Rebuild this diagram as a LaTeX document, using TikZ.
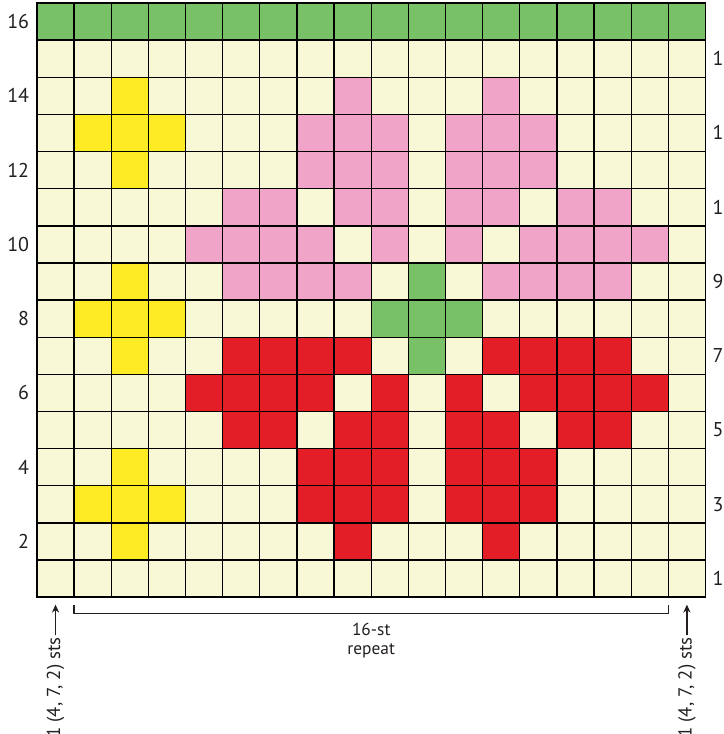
\documentclass[tikz,border=0pt]{standalone}
\usepackage{fontspec}
\setmainfont{PT Sans}
\usetikzlibrary{arrows.meta}

\definecolor{chartcream}{RGB}{248,247,214}
\definecolor{chartgreen}{RGB}{120,193,102}
\definecolor{chartyellow}{RGB}{255,235,35}
\definecolor{chartpink}{RGB}{240,164,199}
\definecolor{chartred}{RGB}{227,30,38}
\definecolor{chartink}{RGB}{35,31,32}

\tikzset{
  rowlabel/.style={inner sep=0pt,text=chartink,font=\fontsize{10}{12}\selectfont},
  stsnote/.style={rotate=90,anchor=east,inner sep=1pt,text=chartink,font=\fontsize{9.4}{11}\selectfont},
  stitch/.style={line width=0.7pt,draw=black}
}

\begin{document}
\begin{tikzpicture}[x=18.6pt,y=18.6pt,>={Stealth[length=4pt,width=3.6pt]}]
  \useasboundingbox (-0.995,-3.683) rectangle (18.495,16.08);
  % ground and top row
  \fill[chartcream] (0,0) rectangle (18,16);
  \fill[chartgreen] (0,15) rectangle (18,16);
  % small yellow crosses
  \foreach \r in {3,8,13} {
    \fill[chartyellow] (2,\r-2) rectangle ++(1,3);
    \fill[chartyellow] (1,\r-1) rectangle ++(3,1);
  }
  % pink flower above, red flower mirrored below
  \foreach \c/\k in {6/0,7/0,8/0,9/0,13/0,14/0,15/0,16/0,
                     5/1,6/1,7/1,8/1,10/1,12/1,14/1,15/1,16/1,17/1,
                     6/2,7/2,9/2,10/2,12/2,13/2,15/2,16/2,
                     8/3,9/3,10/3,12/3,13/3,14/3,
                     8/4,9/4,10/4,12/4,13/4,14/4,
                     9/5,13/5} {
    \fill[chartpink] (\c-1,8+\k) rectangle ++(1,1);
    \fill[chartred] (\c-1,6-\k) rectangle ++(1,1);
  }
  % stem
  \fill[chartgreen] (10,8) rectangle ++(1,1);
  \fill[chartgreen] (9,7) rectangle ++(3,1);
  \fill[chartgreen] (10,6) rectangle ++(1,1);
  % grid
  \foreach \c in {1,...,17}
    \draw[stitch] (\c,0) -- (\c,16);
  \foreach \r in {1,...,15}
    \draw[stitch] (0,\r) -- (18,\r);
  \draw[stitch,line width=0.8pt] (0,0) rectangle (18,16);
  % row numbers
  \foreach \r in {2,4,...,16}
    \node[rowlabel,anchor=east] (left\r) at (-0.2,\r-0.5) {\r};
  \foreach \r in {1,3,...,15}
    \node[rowlabel,anchor=west] (right\r) at (18.18,\r-0.5) {\r};
  % repeat bracket
  \coordinate (repl) at (1,-0.43);
  \coordinate (repr) at (17,-0.43);
  \draw[line width=0.6pt,chartink] (1,-0.21) -- (repl) -- (repr) -- (17,-0.21);
  \node[text=chartink,align=center,font=\fontsize{8.7}{9.8}\selectfont] (repeat) at (9,-1.17) {16-st\\repeat};
  % edge stitches
  \node[stsnote] (leftsts) at (0.5,-1.02) {1 (4, 7, 2) sts};
  \node[stsnote] (rightsts) at (17.5,-1.02) {1 (4, 7, 2) sts};
  \coordinate (lefttip) at (0.5,-0.2);
  \coordinate (righttip) at (17.5,-0.2);
  \draw[->,line width=0.6pt,chartink] (leftsts) -- (lefttip);
  \draw[->,line width=0.6pt,chartink] (rightsts) -- (righttip);
\end{tikzpicture}
\end{document}
